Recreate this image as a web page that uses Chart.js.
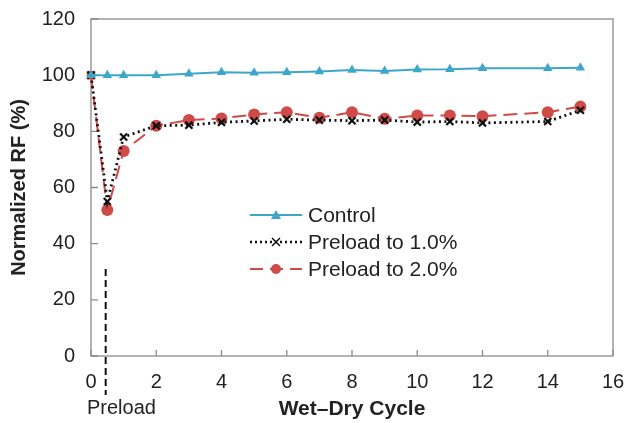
<!DOCTYPE html>
<html>
<head>
<meta charset="utf-8">
<script src="https://cdn.jsdelivr.net/npm/chart.js@4"></script>
<style>
  html, body { margin: 0; padding: 0; background: #fff; }
  #wrap { width: 625px; height: 423px; }
</style>
</head>
<body>
<div id="wrap"><canvas id="chart"></canvas></div>
<script>
// data
const cycles   = [0, 0.5, 1, 2, 3, 4, 5, 6, 7, 8, 9, 10, 11, 12, 14, 15];
const control  = [100, 100, 100, 100, 100.5, 101, 100.9, 101, 101.3, 101.8, 101.5, 102, 102.1, 102.5, 102.5, 102.6];
const preload1 = [100, 55, 78, 82, 82.2, 83.2, 83.7, 84.3, 84, 83.8, 84, 83.3, 83.5, 83, 83.5, 87.5];
const preload2 = [100, 52, 73, 82, 84, 84.6, 86, 86.8, 84.8, 86.8, 84.5, 85.6, 85.6, 85.4, 86.8, 88.8];
const seriesNames = ['Control', 'Preload to 1.0%', 'Preload to 2.0%'];
const preloadAt = 0.45;

const FONT = "'Liberation Sans', Arial, Helvetica, sans-serif";
const BLUE = '#3ea6c9';
const RED = '#d04a48';
const BLACK = '#111';

const pts = ys => cycles.map((c, i) => ({ x: c, y: ys[i] }));

// frame + inward tick marks
const frame = {
  id: 'frame',
  beforeDatasetsDraw(chart) {
    const { ctx, chartArea: a, scales: { x, y } } = chart;
    ctx.save();
    ctx.strokeStyle = '#8a8a8a';
    ctx.lineWidth = 1.3;
    ctx.strokeRect(a.left, a.top, a.right - a.left, a.bottom - a.top);
    ctx.beginPath();
    x.ticks.forEach(t => {
      const px = x.getPixelForValue(t.value);
      ctx.moveTo(px, a.bottom); ctx.lineTo(px, a.bottom - 6);
    });
    y.ticks.forEach(t => {
      const py = y.getPixelForValue(t.value);
      ctx.moveTo(a.left, py); ctx.lineTo(a.left + 7, py);
    });
    ctx.stroke();
    ctx.restore();
  },
  afterDraw(chart) {
    const { ctx, chartArea: a, scales: { x, y } } = chart;
    ctx.save();
    // preload marker
    const px = x.getPixelForValue(preloadAt);
    ctx.strokeStyle = '#111';
    ctx.lineWidth = 2;
    ctx.setLineDash([7, 4]);
    ctx.beginPath();
    ctx.moveTo(px, y.getPixelForValue(31));
    ctx.lineTo(px, a.bottom + 39);
    ctx.stroke();
    ctx.setLineDash([]);
    ctx.fillStyle = '#222';
    ctx.font = '20px ' + FONT;
    ctx.textAlign = 'left';
    ctx.textBaseline = 'middle';
    ctx.fillText('Preload', x.getPixelForValue(0) - 4, 408);

    // legend
    const lx = 250, lw = 52, rows = [215, 242, 269];
    const styles = [
      { c: BLUE, dash: [], w: 2, m: 'tri' },
      { c: BLACK, dash: [2, 3], w: 2.5, m: 'x' },
      { c: RED, dash: [13, 7], w: 2, m: 'dot' }
    ];
    styles.forEach((s, i) => {
      const ly = rows[i];
      ctx.strokeStyle = s.c;
      ctx.lineWidth = s.w;
      ctx.setLineDash(s.dash);
      ctx.beginPath(); ctx.moveTo(lx, ly); ctx.lineTo(lx + lw, ly); ctx.stroke();
      ctx.setLineDash([]);
      const mx = lx + lw / 2;
      ctx.fillStyle = s.c;
      if (s.m === 'tri') {
        ctx.beginPath(); ctx.moveTo(mx, ly - 5); ctx.lineTo(mx + 5, ly + 4); ctx.lineTo(mx - 5, ly + 4); ctx.closePath(); ctx.fill();
      } else if (s.m === 'x') {
        ctx.lineWidth = 1.5;
        ctx.beginPath(); ctx.moveTo(mx - 4, ly - 4); ctx.lineTo(mx + 4, ly + 4); ctx.moveTo(mx + 4, ly - 4); ctx.lineTo(mx - 4, ly + 4); ctx.stroke();
      } else {
        ctx.beginPath(); ctx.arc(mx, ly, 5, 0, Math.PI * 2); ctx.fill();
      }
      ctx.fillStyle = '#222';
      ctx.font = '21px ' + FONT;
      ctx.fillText(seriesNames[i], lx + lw + 6, ly + 1);
    });
    ctx.restore();
  }
};

new Chart(document.getElementById('chart'), {
  type: 'line',
  data: {
    datasets: [
      {
        label: seriesNames[0], data: pts(control),
        borderColor: BLUE, backgroundColor: BLUE, borderWidth: 2,
        pointStyle: 'triangle', pointRadius: 5.5, pointBorderWidth: 0, tension: 0
      },
      {
        label: seriesNames[1], data: pts(preload1),
        borderColor: BLACK, backgroundColor: BLACK, borderWidth: 2.8, borderDash: [2, 3.5],
        pointStyle: 'crossRot', pointRadius: 5, pointBorderWidth: 2.2, tension: 0
      },
      {
        label: seriesNames[2], data: pts(preload2),
        borderColor: RED, backgroundColor: RED, borderWidth: 2, borderDash: [14, 7],
        pointStyle: cycles.map((c, i) => i === 0 ? 'rect' : 'circle'),
        pointRadius: 6, pointBorderWidth: 0, tension: 0
      }
    ]
  },
  options: {
    responsive: true,
    maintainAspectRatio: false,
    animation: false,
    clip: false,
    layout: { padding: { top: 19, right: 12, left: 0, bottom: 0 } },
    plugins: { legend: { display: false }, tooltip: { enabled: false } },
    scales: {
      x: {
        type: 'linear', min: 0, max: 16,
        afterFit: s => { s.height = 67; s.paddingLeft = 0; s.paddingRight = 0; },
        grid: { display: false, drawTicks: false },
        border: { display: false },
        ticks: { stepSize: 2, padding: 14, color: '#222', font: { family: FONT, size: 20 } },
        title: { display: true, text: 'Wet–Dry Cycle', color: '#222', padding: { top: 0, bottom: 1 }, font: { family: FONT, size: 21, weight: 'bold' } }
      },
      y: {
        min: 0, max: 120,
        afterFit: s => { s.width = 91; s.paddingTop = 0; s.paddingBottom = 0; },
        grid: { display: false, drawTicks: false },
        border: { display: false },
        ticks: { stepSize: 20, padding: 16, color: '#222', font: { family: FONT, size: 20 } },
        title: { display: true, text: 'Normalized RF (%)', color: '#222', padding: { top: 7, bottom: 0 }, font: { family: FONT, size: 20, weight: 'bold' } }
      }
    }
  },
  plugins: [frame]
});
</script>
</body>
</html>
